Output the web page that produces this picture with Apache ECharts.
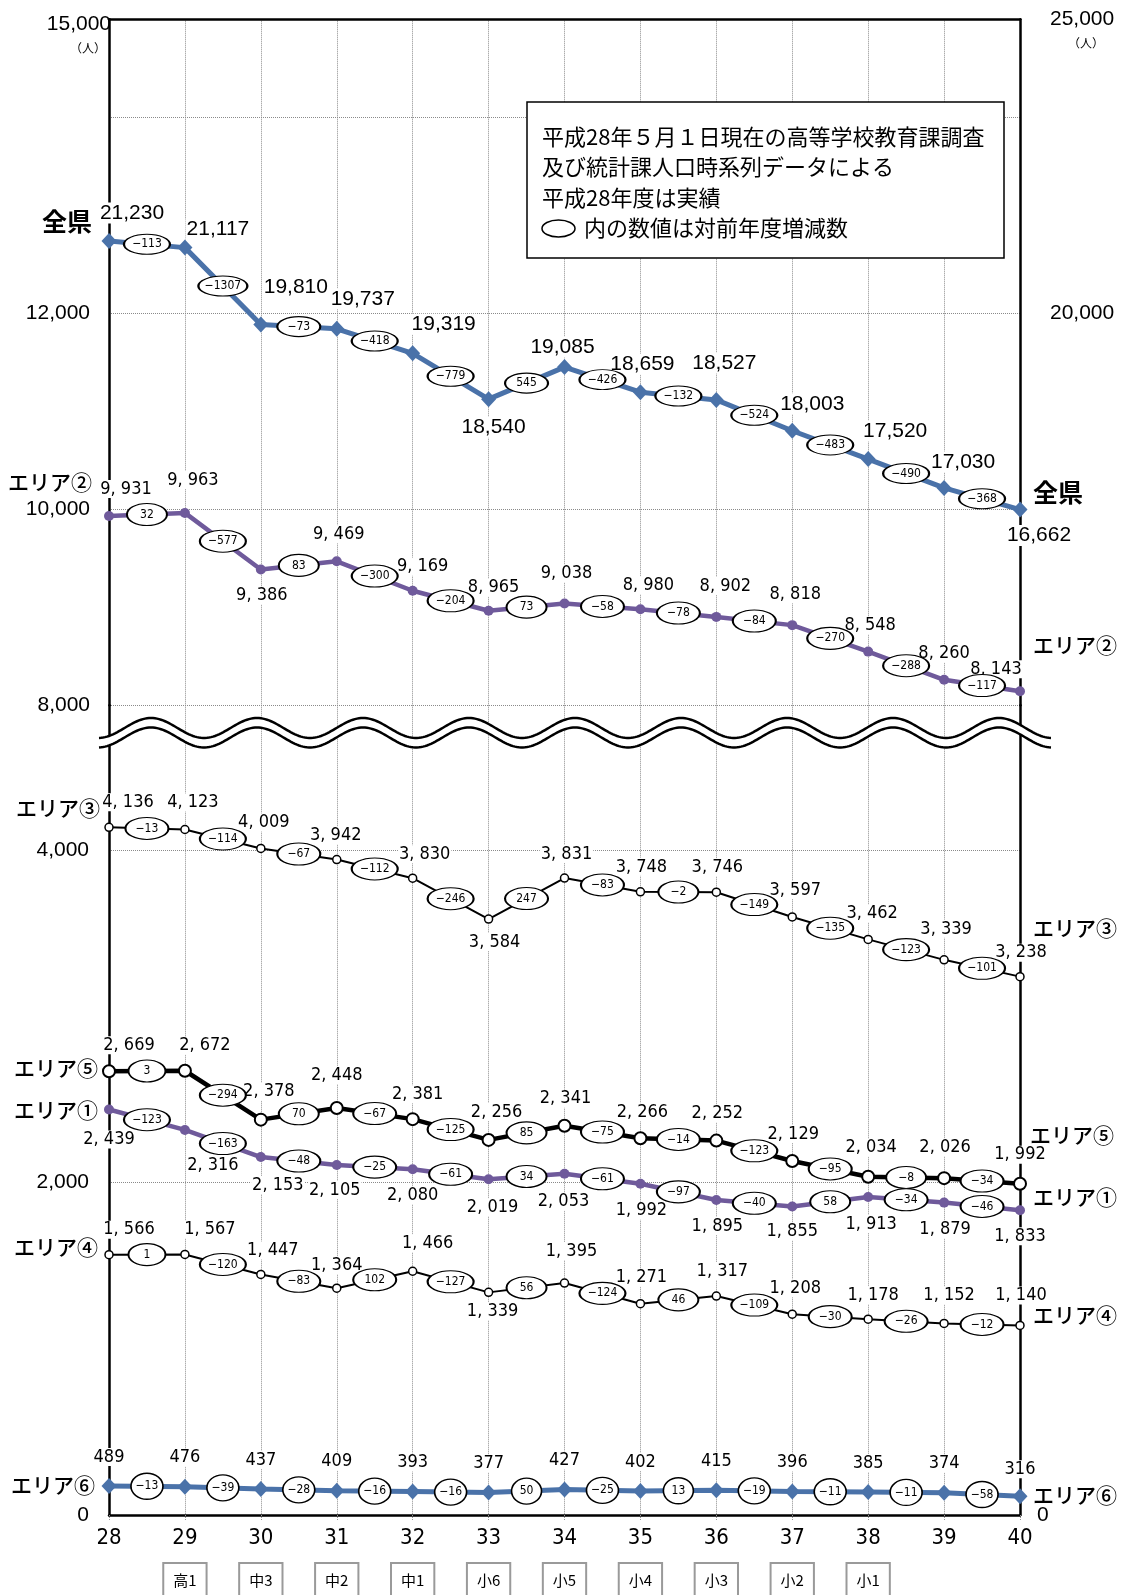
<!DOCTYPE html>
<html>
<head>
<meta charset="utf-8">
<script src="https://cdn.jsdelivr.net/npm/echarts@6/dist/echarts.min.js"></script>
<style>
  html, body { margin: 0; padding: 0; background: #fff; }
  #chart { width: 1121px; height: 1595px; }
</style>
</head>
<body>
<div id="chart"></div>
<script>
// 年度 (平成)
const years = [28, 29, 30, 31, 32, 33, 34, 35, 36, 37, 38, 39, 40];
const gradeYears = [29, 30, 31, 32, 33, 34, 35, 36, 37, 38];
const grades = ['高1', '中3', '中2', '中1', '小6', '小5', '小4', '小3', '小2', '小1'];

const zenken = [21230, 21117, 19810, 19737, 19319, 18540, 19085, 18659, 18527, 18003, 17520, 17030, 16662];
const area2 = [9931, 9963, 9386, 9469, 9169, 8965, 9038, 8980, 8902, 8818, 8548, 8260, 8143];
const area3 = [4136, 4123, 4009, 3942, 3830, 3584, 3831, 3748, 3746, 3597, 3462, 3339, 3238];
const area5 = [2669, 2672, 2378, 2448, 2381, 2256, 2341, 2266, 2252, 2129, 2034, 2026, 1992];
const area1 = [2439, 2316, 2153, 2105, 2080, 2019, 2053, 1992, 1895, 1855, 1913, 1879, 1833];
const area4 = [1566, 1567, 1447, 1364, 1466, 1339, 1395, 1271, 1317, 1208, 1178, 1152, 1140];
const area6 = [489, 476, 437, 409, 393, 377, 427, 402, 415, 396, 385, 374, 316];

// label placement (px offset from the point)
const offZenken = [[23,-28],[33,-18],[35,-37],[26,-30],[31,-29],[5,28],[-2,-20],[2,-28],[8,-37],[20,-27],[27,-28],[19,-26],[19,26]];
const off2 = [[17,-27],[8,-33],[1,26],[2,-27],[10,-24],[5,-23],[2,-30],[8,-24],[9,-31],[3,-31],[2,-26],[0,-26],[-24,-22]];
const off3 = [[19,-25],[8,-27],[3,-26],[-1,-24],[12,-24],[6,23],[2,-24],[1,-25],[1,-25],[3,-27],[4,-26],[2,-31],[1,-24]];
const off5 = [[20,-26],[20,-25],[8,-28],[0,-33],[5,-25],[8,-28],[1,-27],[2,-26],[1,-27],[1,-27],[3,-29],[1,-31],[0,-29]];
const off1 = [[0,30],[28,35],[17,28],[-2,25],[0,26],[4,28],[-1,28],[1,27],[1,26],[0,25],[3,27],[1,27],[0,26]];
const off4 = [[20,-25],[25,-25],[12,-24],[0,-23],[15,-28],[4,19],[7,-32],[1,-26],[6,-25],[3,-26],[5,-24],[5,-28],[1,-30]];
const off6 = [[0,-29],[0,-29],[0,-29],[0,-29],[0,-29],[0,-29],[0,-29],[0,-29],[0,-29],[0,-29],[0,-29],[0,-29],[0,-27]];

const BLUE = '#4a72a9';
const PURPLE = '#6f5a9b';
const NARROW = "'Liberation Sans Narrow', 'DejaVu Sans Condensed', Roboto, sans-serif";
const ARIAL = "'Liberation Sans', Arial, sans-serif";
const JP = "'Noto Sans CJK JP', sans-serif";

const fmtComma = v => v.toLocaleString('en-US');
const fmtSpace = v => v >= 1000 ? Math.floor(v / 1000) + ', ' + String(v % 1000).padStart(3, '0') : String(v);
const fmtDiff = d => (d < 0 ? '\u2212' + (-d) : String(d));

function lineSeries(vals, offsets, xi, yi, st) {
  return {
    type: 'line',
    xAxisIndex: xi,
    yAxisIndex: yi,
    data: vals.map((v, i) => ({ value: [years[i], v], label: { offset: offsets[i] } })),
    symbol: st.symbol,
    symbolSize: st.size,
    showSymbol: true,
    lineStyle: { color: st.line, width: st.width },
    itemStyle: { color: st.fill, borderColor: st.border || st.fill, borderWidth: st.borderWidth || 0 },
    label: {
      show: true,
      position: 'inside',
      formatter: p => st.fmt(p.value[1]),
      fontFamily: st.font,
      fontSize: st.fontSize,
      color: '#000',
      backgroundColor: '#fff',
      padding: [0, 1]
    },
    z: 3,
    silent: true
  };
}

function diffSeries(vals, xi, yi, h, base, step) {
  const data = [];
  for (let i = 1; i < vals.length; i++) {
    data.push([(years[i - 1] + years[i]) / 2, (vals[i - 1] + vals[i]) / 2, vals[i] - vals[i - 1]]);
  }
  return {
    type: 'scatter',
    xAxisIndex: xi,
    yAxisIndex: yi,
    data: data,
    symbol: 'circle',
    symbolSize: v => [base + step * fmtDiff(v[2]).length, h],
    itemStyle: { color: '#fff', borderColor: '#000', borderWidth: 1.5, opacity: 1 },
    label: {
      show: true,
      position: 'inside',
      formatter: p => fmtDiff(p.value[2]),
      fontFamily: NARROW,
      fontSize: 12,
      color: '#000'
    },
    z: 6,
    silent: true
  };
}

// wavy break mark between the two panels
function wave(dy) {
  const pts = [];
  for (let x = 99; x <= 1052; x += 2) {
    pts.push([x, 728 + dy - 10 * Math.cos(2 * Math.PI * (x - 151) / 106)]);
  }
  return pts;
}
const waveTop = wave(0);
const waveBot = wave(9.5);

function txt(text, x, y, size, opts) {
  opts = opts || {};
  return {
    type: 'text',
    z: 120,
    style: {
      text: text, x: x, y: y,
      fill: '#000',
      font: (opts.weight ? opts.weight + ' ' : '') + size + 'px ' + (opts.family || JP),
      align: opts.align || 'center',
      verticalAlign: 'middle'
    }
  };
}

const dotted = { show: true, lineStyle: { color: '#8a8a8a', type: 'dotted', width: 1 }, showMinLine: false, showMaxLine: false };
const blackLine = { show: true, lineStyle: { color: '#000', width: 2.5 } };

const chart = echarts.init(document.getElementById('chart'));

const option = {
  animation: false,
  backgroundColor: '#fff',
  textStyle: { fontFamily: ARIAL },
  grid: [
    { left: 109, right: 101, top: 19.3, height: 686, outerBoundsMode: 'none' },
    { left: 109, right: 101, top: 705.3, height: 809.7, outerBoundsMode: 'none' },
    { left: 109, right: 101, top: 1559, height: 2, outerBoundsMode: 'none' }
  ],
  xAxis: [
    {
      gridIndex: 0, type: 'value', min: 28, max: 40, interval: 1, position: 'top',
      axisLine: blackLine, axisTick: { show: false }, axisLabel: { show: false },
      splitLine: dotted
    },
    {
      gridIndex: 1, type: 'value', min: 28, max: 40, interval: 1, position: 'bottom',
      axisLine: blackLine,
      axisTick: { show: true, length: 6, lineStyle: { color: '#999', type: 'dotted' } },
      axisLabel: { fontFamily: NARROW, fontSize: 22, color: '#000', margin: 12 },
      splitLine: dotted
    },
    {
      gridIndex: 2, type: 'value', min: 28, max: 40, position: 'bottom',
      axisLine: { show: false }, axisTick: { show: false }, splitLine: { show: false },
      axisLabel: {
        customValues: gradeYears,
        formatter: v => grades[gradeYears.indexOf(v)],
        fontFamily: JP, fontSize: 15, color: '#000',
        backgroundColor: '#fff', borderColor: '#9a9a9a', borderWidth: 2,
        padding: [9, 9, 16, 9], margin: 3
      }
    }
  ],
  yAxis: [
    {
      gridIndex: 0, type: 'value', min: 8000, max: 15000, interval: 2000, position: 'left',
      axisLine: blackLine, axisTick: { show: false },
      axisLabel: { customValues: [8000, 10000, 12000], formatter: fmtComma, fontSize: 21, color: '#000', margin: 19 },
      splitLine: { show: true, lineStyle: { color: '#8a8a8a', type: 'dotted', width: 1 }, showMinLine: true, showMaxLine: false }
    },
    {
      gridIndex: 0, type: 'value', min: 25000 - 7000 * 5 / 3, max: 25000, position: 'right',
      axisLine: blackLine, axisTick: { show: false },
      axisLabel: { customValues: [20000, 25000], formatter: fmtComma, fontSize: 21, color: '#000', margin: 30 },
      splitLine: { show: false }
    },
    {
      gridIndex: 1, type: 'value', min: 0, max: 4870, interval: 2000, position: 'left',
      axisLine: blackLine, axisTick: { show: false },
      axisLabel: { customValues: [0, 2000, 4000], formatter: fmtComma, fontSize: 21, color: '#000', margin: 20 },
      splitLine: { show: true, lineStyle: { color: '#8a8a8a', type: 'dotted', width: 1 }, showMinLine: false, showMaxLine: false }
    },
    {
      gridIndex: 1, type: 'value', min: 0, max: 13608, position: 'right',
      axisLine: blackLine, axisTick: { show: false },
      axisLabel: { customValues: [0], fontSize: 21, color: '#000', margin: 17 },
      splitLine: { show: false }
    },
    { gridIndex: 2, type: 'value', show: false }
  ],
  series: [
    lineSeries(zenken, offZenken, 0, 1, { symbol: 'diamond', size: [15, 16], line: BLUE, width: 5, fill: BLUE, fmt: fmtComma, font: ARIAL, fontSize: 21 }),
    lineSeries(area2, off2, 0, 0, { symbol: 'circle', size: 10, line: PURPLE, width: 4.5, fill: PURPLE, fmt: fmtSpace, font: NARROW, fontSize: 18 }),
    lineSeries(area3, off3, 1, 2, { symbol: 'circle', size: 8, line: '#000', width: 2, fill: '#fff', border: '#000', borderWidth: 1.5, fmt: fmtSpace, font: NARROW, fontSize: 18 }),
    lineSeries(area5, off5, 1, 2, { symbol: 'circle', size: 12, line: '#000', width: 4.5, fill: '#fff', border: '#000', borderWidth: 2, fmt: fmtSpace, font: NARROW, fontSize: 18 }),
    lineSeries(area1, off1, 1, 2, { symbol: 'circle', size: 10, line: PURPLE, width: 4.5, fill: PURPLE, fmt: fmtSpace, font: NARROW, fontSize: 18 }),
    lineSeries(area4, off4, 1, 2, { symbol: 'circle', size: 8, line: '#000', width: 2, fill: '#fff', border: '#000', borderWidth: 1.5, fmt: fmtSpace, font: NARROW, fontSize: 18 }),
    lineSeries(area6, off6, 1, 3, { symbol: 'diamond', size: [15, 16], line: BLUE, width: 5, fill: BLUE, fmt: String, font: NARROW, fontSize: 18 }),
    diffSeries(zenken, 0, 1, 20, 34, 3),
    diffSeries(area2, 0, 0, 22, 34, 3),
    diffSeries(area3, 1, 2, 22, 34, 3),
    diffSeries(area5, 1, 2, 22, 34, 3),
    diffSeries(area1, 1, 2, 22, 34, 3),
    diffSeries(area4, 1, 2, 22, 34, 3),
    diffSeries(area6, 1, 3, 26, 26, 2)
  ],
  graphic: [
    // axis break
    { type: 'polygon', z: 110, shape: { points: waveTop.concat(waveBot.slice().reverse()) }, style: { fill: '#fff', stroke: null } },
    { type: 'polyline', z: 111, shape: { points: waveTop }, style: { stroke: '#000', lineWidth: 2.5, fill: null } },
    { type: 'polyline', z: 111, shape: { points: waveBot }, style: { stroke: '#000', lineWidth: 2.5, fill: null } },

    // note box
    { type: 'rect', z: 100, shape: { x: 527, y: 102, width: 477, height: 156 }, style: { fill: '#fff', stroke: '#000', lineWidth: 1.5 } },
    txt('平成28年５月１日現在の高等学校教育課調査', 542, 137, 22, { align: 'left' }),
    txt('及び統計課人口時系列データによる', 542, 167, 22, { align: 'left' }),
    txt('平成28年度は実績', 542, 198, 22, { align: 'left' }),
    { type: 'ellipse', z: 120, shape: { cx: 558.5, cy: 228.5, rx: 16.5, ry: 8.5 }, style: { fill: '#fff', stroke: '#000', lineWidth: 1.5 } },
    txt('内の数値は対前年度増減数', 584, 228, 22, { align: 'left' }),

    // axis top labels
    txt('15,000', 111, 24, 21, { align: 'right', family: ARIAL }),
    txt('（人）', 88, 48, 12),
    txt('（人）', 1086, 43, 12),

    // series names
    txt('全県', 67, 221, 25, { weight: 'bold' }),
    txt('全県', 1058, 492, 25, { weight: 'bold' }),
    txt('エリア②', 50, 482, 21, { weight: 500 }),
    txt('エリア②', 1075, 645, 21, { weight: 500 }),
    txt('エリア③', 58, 808, 21, { weight: 500 }),
    txt('エリア③', 1075, 928, 21, { weight: 500 }),
    txt('エリア⑤', 56, 1068, 21, { weight: 500 }),
    txt('エリア⑤', 1072, 1135, 21, { weight: 500 }),
    txt('エリア①', 56, 1110, 21, { weight: 500 }),
    txt('エリア①', 1075, 1197, 21, { weight: 500 }),
    txt('エリア④', 56, 1247, 21, { weight: 500 }),
    txt('エリア④', 1075, 1315, 21, { weight: 500 }),
    txt('エリア⑥', 53, 1485, 21, { weight: 500 }),
    txt('エリア⑥', 1075, 1495, 21, { weight: 500 })
  ]
};

chart.setOption(option);
</script>
</body>
</html>
